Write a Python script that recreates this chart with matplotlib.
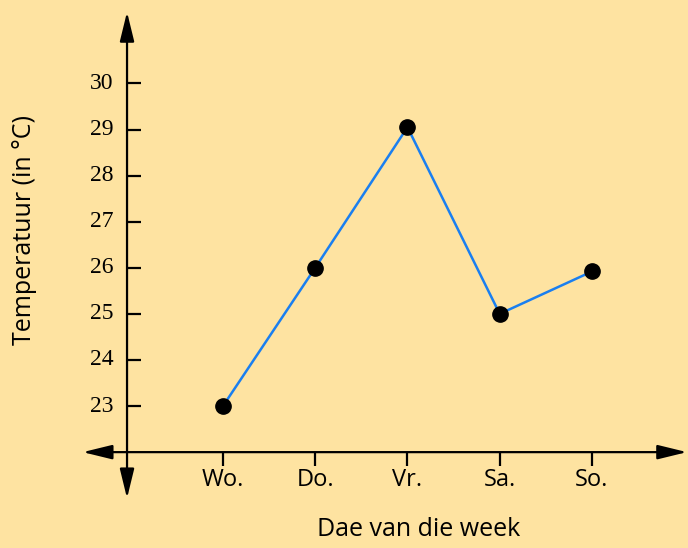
import matplotlib.pyplot as plt

# Daily temperatures
days = ['Wo.', 'Do.', 'Vr.', 'Sa.', 'So.']
temps = [23, 26, 29.05, 25, 25.92]
y_ticks = [23, 24, 25, 26, 27, 28, 29, 30]

bg = '#fee3a1'
line_blue = '#1a7ff0'

fig = plt.figure(figsize=(6.88, 5.48), dpi=100, facecolor=bg)
ax = fig.add_axes([0, 0, 1, 1])
ax.set_facecolor(bg)
ax.set_axis_off()

# data limits chosen so the axes fill the whole canvas
ax.set_xlim(-2.417, 5.041)
ax.set_ylim(19.92, 31.81)

x = list(range(len(days)))
y_axis_x = -1.04
x_axis_y = 22.0

# axes with arrowheads at both ends
arrow = dict(arrowstyle='<|-|>,head_length=0.9,head_width=0.22',
             color='black', lw=1.6, mutation_scale=20, shrinkA=0, shrinkB=0)
ax.annotate('', xy=(y_axis_x, 31.55), xytext=(y_axis_x, 21.0),
            arrowprops=arrow)
ax.annotate('', xy=(5.03, x_axis_y), xytext=(-1.52, x_axis_y),
            arrowprops=arrow)

# y ticks and labels
for t in y_ticks:
    ax.plot([y_axis_x, y_axis_x + 0.15], [t, t], color='black', lw=1.6,
            solid_capstyle='butt')
    ax.text(y_axis_x - 0.15, t, str(t), ha='right', va='center',
            fontsize=17, family='Liberation Serif')

# x ticks and labels
for xi, d in zip(x, days):
    ax.plot([xi, xi], [x_axis_y, x_axis_y - 0.3], color='black', lw=1.6,
            solid_capstyle='butt')
    ax.text(xi, x_axis_y - 0.6, d, ha='center', va='center',
            fontsize=17, family='Open Sans')

ax.plot(x, temps, color=line_blue, lw=1.8, zorder=3)
ax.plot(x, temps, 'o', color='black', markersize=11, zorder=4)

ax.text(2.12, 20.33, 'Dae van die week', ha='center', va='center',
        fontsize=18, family='Open Sans')
ax.text(-2.15, 26.82, 'Temperatuur (in °C)', ha='center', va='center',
        rotation=90, fontsize=18, family='Open Sans')

fig.savefig('out.png', dpi=100, facecolor=bg)
